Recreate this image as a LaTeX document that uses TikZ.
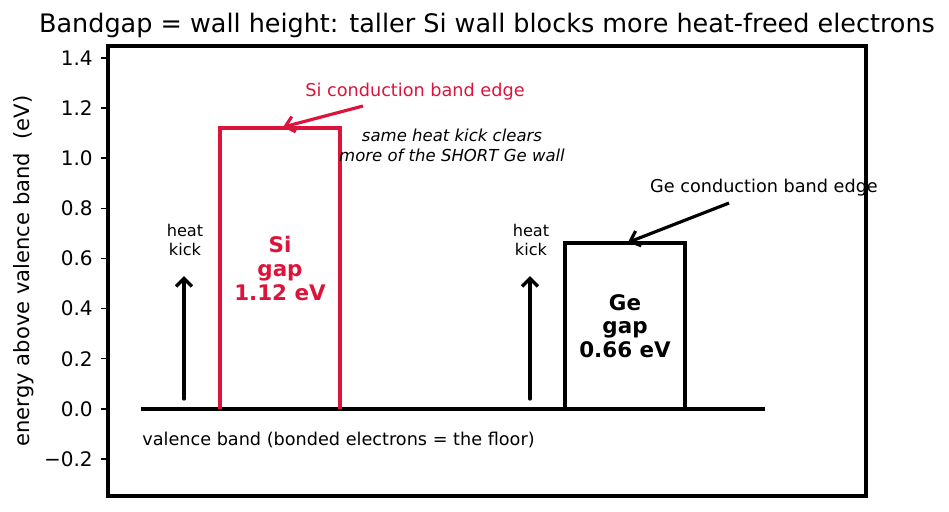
\documentclass[tikz,border=0pt]{standalone}
\usepackage{fontspec}
\setmainfont{DejaVu Sans}
\usetikzlibrary{arrows.meta}
\definecolor{sired}{RGB}{220,20,60}
\tikzset{
	wall/.style={line width=2.3pt},
	kick/.style={line width=2pt, line cap=round, -{Straight Barb[length=4.5pt,width=9pt,line width=2pt]}},
	edgearrow/.style={line width=1.8pt, -{Straight Barb[length=5pt,width=9pt,line width=1.8pt]}},
	ticklabel/.style={anchor=east, inner sep=0pt, font=\fontsize{11.4}{13.7}\selectfont},
	small/.style={inner sep=0pt, align=center, font=\fontsize{10.05}{12.1}\selectfont},
	tiny/.style={inner sep=0pt, align=center, font=\fontsize{9.2}{10.6}\selectfont},
	gaplabel/.style={inner sep=0pt, align=center, font=\fontsize{12.2}{13.4}\selectfont\bfseries}
}

\begin{document}
\begin{tikzpicture}[x=0.02cm, y=5.016cm]
			\useasboundingbox (0,-0.4107) rectangle (949,1.6308);
			% title and axis
			\node (title) at (487,1.531) {\fontsize{14.5}{17}\selectfont Bandgap = wall height: taller Si wall blocks more heat-freed electrons};
			\node[rotate=90, font=\fontsize{12}{14.4}\selectfont] (ylabel) at (24,0.55) {energy above valence band\ \ (eV)};
			\foreach \v/\t in {-0.2/−0.2, 0/0.0, 0.2/0.2, 0.4/0.4, 0.6/0.6, 0.8/0.8, 1.0/1.0, 1.2/1.2, 1.4/1.4} {
				\draw[line width=0.8pt] (101,\v) -- (108,\v);
				\node[ticklabel] (tick\t) at (93,\v) {\t};
			}
			% floor
			\coordinate (floorL) at (141,0);
			\coordinate (floorR) at (765,0);
			\draw[line width=2.3pt] (floorL) -- (floorR);
			\node[small, anchor=west] (floortxt) at (142,-0.124) {valence band (bonded electrons = the floor)};
			% Si wall
			\draw[wall, sired] (220,0) -- (220,1.12) -- (340,1.12) -- (340,0);
			\node[gaplabel, text=sired] (silabel) at (280,0.56) {Si\\gap\\1.12 eV};
			\node[small, text=sired] (sitxt) at (415,1.264) {Si conduction band edge};
			\coordinate (sitail) at (363,1.208);
			\coordinate (sitip) at (283,1.124);
			\draw[edgearrow, sired] (sitail) -- (sitip);
			% Ge wall
			\draw[wall] (565,0) -- (565,0.66) -- (685,0.66) -- (685,0);
			\node[gaplabel] (gelabel) at (625,0.33) {Ge\\gap\\0.66 eV};
			\node[small] (getxt) at (764,0.881) {Ge conduction band edge};
			\coordinate (getail) at (729,0.821);
			\coordinate (getip) at (628,0.664);
			\draw[edgearrow] (getail) -- (getip);
			% heat kicks
			\foreach \k/\x in {si/184, ge/530} {
				\node[tiny] (heat\k) at (\x+1,0.674) {heat\\kick};
				\coordinate (kickfoot\k) at (\x,0.04);
				\coordinate (kicktop\k) at (\x,0.53);
				\draw[kick] (kickfoot\k) -- (kicktop\k);
			}
			\node[small, font=\fontsize{9.4}{11.8}\selectfont\itshape] (note) at (452,1.051) {same heat kick clears\\more of the SHORT Ge wall};
			% frame on top
			\draw[line width=2.3pt] (108,1.4474) rectangle (866,-0.3469);
\end{tikzpicture}
\end{document}
